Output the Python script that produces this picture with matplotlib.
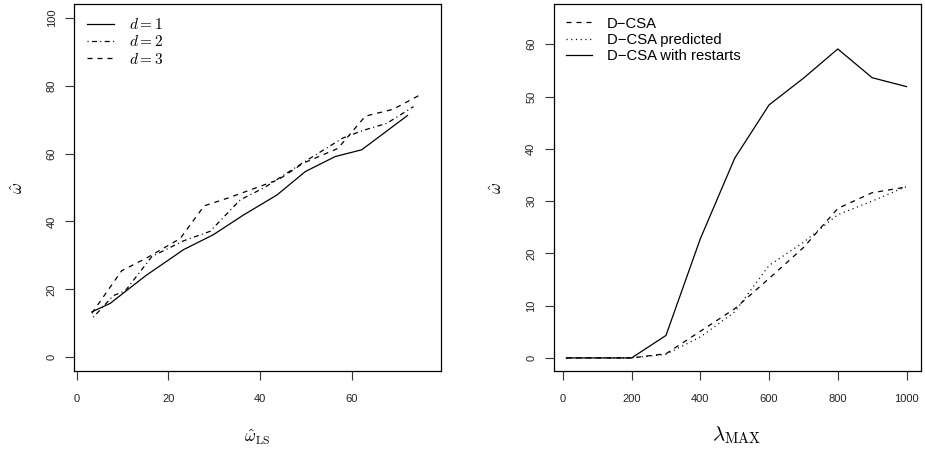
import matplotlib
matplotlib.use("Agg")
import matplotlib.pyplot as plt

plt.rcParams["font.family"] = ["Liberation Sans", "DejaVu Sans"]
plt.rcParams["mathtext.fontset"] = "cm"
plt.rcParams["lines.scale_dashes"] = False

# Left panel: estimated omega vs least-squares estimate, for d = 1, 2, 3
d1_x = [3.3, 7.3, 15.0, 23.3, 29.8, 36.5, 43.7, 49.9, 56.4, 62.2, 72.2]
d1_y = [13.4, 15.9, 24.0, 31.7, 36.1, 42.0, 47.8, 54.7, 59.1, 61.1, 71.2]
d2_x = [3.6, 8.0, 10.6, 16.4, 23.3, 29.1, 35.7, 41.0, 49.5, 58.0, 62.5, 67.7, 73.5]
d2_y = [11.8, 18.2, 19.6, 29.7, 34.3, 37.1, 46.4, 50.0, 57.4, 64.5, 66.8, 68.9, 73.8]
d3_x = [3.3, 9.8, 15.3, 22.6, 27.8, 33.0, 44.0, 49.5, 57.0, 63.0, 69.0, 75.0]
d3_y = [13.0, 25.5, 29.3, 35.0, 44.6, 46.9, 52.3, 57.2, 61.5, 71.0, 73.0, 77.3]
left_labels = [r"$d = 1$", r"$d = 2$", r"$d = 3$"]

# Right panel: estimated omega vs lambda_MAX
lam = [10, 100, 200, 300, 400, 500, 600, 700, 800, 900, 1000]
dcsa = [0, 0, 0, 0.8, 5.1, 9.4, 15.2, 21.1, 28.6, 31.6, 32.7]
dcsa_pred = [0, 0, 0, 0.7, 4.0, 8.8, 17.7, 22.1, 27.4, 30.0, 32.8]
dcsa_restart = [0, 0, 0, 4.3, 22.8, 38.2, 48.4, 53.5, 59.1, 53.6, 51.9]
right_labels = ["D\u2212CSA", "D\u2212CSA predicted", "D\u2212CSA with restarts"]

SOLID = "-"
DASHED = (0, (3.6, 3.6))
DOTTED = (0, (0.8, 2.6))
DOTDASH = (0, (0.8, 2.4, 3.6, 2.4))

W, H = 925, 450
fig = plt.figure(figsize=(W / 100, H / 100), dpi=100)
axL = fig.add_axes([74 / W, 1 - 371 / H, 367 / W, 367 / H])
axR = fig.add_axes([553.5 / W, 1 - 371 / H, 367 / W, 367 / H])

lw = 0.9
axL.plot(d1_x, d1_y, color="black", lw=lw, linestyle=SOLID, label=left_labels[0])
axL.plot(d2_x, d2_y, color="black", lw=lw, linestyle=DOTDASH, label=left_labels[1])
axL.plot(d3_x, d3_y, color="black", lw=lw, linestyle=DASHED, label=left_labels[2])
axL.set_xlim(-0.6, 79.5)
axL.set_ylim(-4, 104)
axL.set_xticks([0, 20, 40, 60])
axL.set_yticks([0, 20, 40, 60, 80, 100])

axR.plot(lam, dcsa, color="black", lw=lw, linestyle=DASHED, label=right_labels[0])
axR.plot(lam, dcsa_pred, color="black", lw=lw, linestyle=DOTTED, label=right_labels[1])
axR.plot(lam, dcsa_restart, color="black", lw=lw, linestyle=SOLID, label=right_labels[2])
axR.set_xlim(-27.3, 1040.7)
axR.set_ylim(-2.5, 67.7)
axR.set_xticks([0, 200, 400, 600, 800, 1000])
axR.set_yticks([0, 10, 20, 30, 40, 50, 60])

for ax in (axL, axR):
    for s in ax.spines.values():
        s.set_linewidth(0.9)
        s.set_color("black")
    ax.tick_params(direction="out", length=6.5, width=0.8, labelsize=8,
                   color="#333333", labelcolor="#222222")
    ax.tick_params(axis="x", pad=10)
    ax.tick_params(axis="y", pad=6)
    for t in ax.get_yticklabels():
        t.set_rotation(90)
        t.set_va("center")

axL.set_ylabel(r"$\hat{\omega}$", fontsize=12, labelpad=15)
axL.set_xlabel(r"$\hat{\omega}_{\rm LS}$", fontsize=12, labelpad=17)
axR.set_ylabel(r"$\hat{\omega}$", fontsize=12, labelpad=15)
axR.set_xlabel(r"$\lambda_{\rm MAX}$", fontsize=15, labelpad=15)

leg_kw = dict(loc="upper left", frameon=False, handlelength=1.75,
              handletextpad=1.0, labelspacing=0.15, borderaxespad=0.3,
              borderpad=0.55)
axL.legend(fontsize=11, **leg_kw)
axR.legend(fontsize=10.7, **leg_kw)

fig.savefig("out.png", dpi=100)
